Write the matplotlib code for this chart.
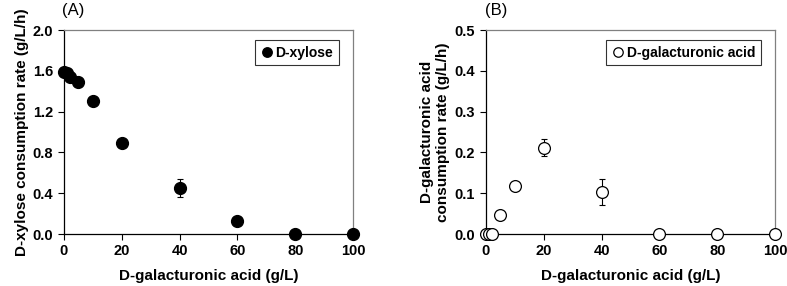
import matplotlib.pyplot as plt

plt.rcParams['font.family'] = ['Liberation Sans', 'DejaVu Sans']

# panel A: D-xylose consumption rate
gal_a = [0, 1, 2, 5, 10, 20, 40, 60, 80, 100]
xyl_rate = [1.59, 1.58, 1.54, 1.49, 1.30, 0.89, 0.45, 0.13, 0.0, 0.0]
xyl_err = [0, 0, 0, 0, 0, 0, 0.09, 0, 0, 0]

# panel B: D-galacturonic acid consumption rate
gal_b = [0, 1, 2, 5, 10, 20, 40, 60, 80, 100]
gal_rate = [0.0, 0.0, 0.0, 0.047, 0.117, 0.212, 0.103, 0.0, 0.0, 0.0]
gal_err = [0, 0, 0, 0, 0, 0.022, 0.031, 0, 0, 0]

xticks = [0, 20, 40, 60, 80, 100]
yticks_a = [0.0, 0.4, 0.8, 1.2, 1.6, 2.0]
yticks_b = [0.0, 0.1, 0.2, 0.3, 0.4, 0.5]

fig = plt.figure(figsize=(7.87, 2.86), dpi=100)
ax1 = fig.add_axes([64 / 787, 1 - 234 / 286, 289 / 787, 204 / 286])
ax2 = fig.add_axes([486 / 787, 1 - 234 / 286, 289 / 787, 204 / 286])


def style(ax, yticks, fmt):
    ax.set_xlim(0, 100)
    ax.set_ylim(yticks[0], yticks[-1])
    ax.set_xticks(xticks)
    ax.set_yticks(yticks)
    ax.set_yticklabels([fmt.format(v) for v in yticks])
    ax.tick_params(direction='out', length=4, width=0.8, labelsize=10.5, pad=4)
    ax.tick_params(axis='x', pad=3)
    for lab in ax.get_xticklabels() + ax.get_yticklabels():
        lab.set_fontweight('bold')
    for s in ['left', 'bottom']:
        ax.spines[s].set_color('black')
        ax.spines[s].set_linewidth(0.9)
    for s in ['top', 'right']:
        ax.spines[s].set_color('#808080')
        ax.spines[s].set_linewidth(0.9)
    ax.set_xlabel('D-galacturonic acid (g/L)', fontsize=11, fontweight='bold', labelpad=8)


ax1.errorbar(gal_a, xyl_rate, yerr=xyl_err, fmt='none', ecolor='black',
             elinewidth=0.8, capsize=2, capthick=0.8, zorder=2)
ax1.plot(gal_a, xyl_rate, 'o', color='black', ms=8.5, clip_on=False, zorder=3,
         label='D-xylose')
style(ax1, yticks_a, '{:.1f}')
ax1.set_ylabel('D-xylose consumption rate (g/L/h)', fontsize=11, fontweight='bold', labelpad=2)

ax2.errorbar(gal_b, gal_rate, yerr=gal_err, fmt='none', ecolor='black',
             elinewidth=0.8, capsize=2, capthick=0.8, zorder=2)
ax2.plot(gal_b, gal_rate, 'o', mfc='white', mec='black', mew=0.9, ms=8.5,
         clip_on=False, zorder=3, label='D-galacturonic acid')
style(ax2, yticks_b, '{:.1f}')
ax2.set_ylabel('D-galacturonic acid\nconsumption rate (g/L/h)', fontsize=11,
               fontweight='bold', labelpad=3)

for ax in (ax1, ax2):
    leg = ax.legend(loc='upper right', fontsize=10, frameon=True, fancybox=False,
                    handletextpad=0.1, handlelength=1.0, borderpad=0.4,
                    markerscale=0.8, bbox_to_anchor=(0.975, 0.985))
    leg.get_frame().set_edgecolor('black')
    leg.get_frame().set_linewidth(0.8)
    for t in leg.get_texts():
        t.set_fontweight('bold')

fig.text(62 / 787, 1 - 11 / 286, '(A)', fontsize=12, va='center', ha='left')
fig.text(485 / 787, 1 - 11 / 286, '(B)', fontsize=12, va='center', ha='left')

fig.savefig('out.png', dpi=100)
